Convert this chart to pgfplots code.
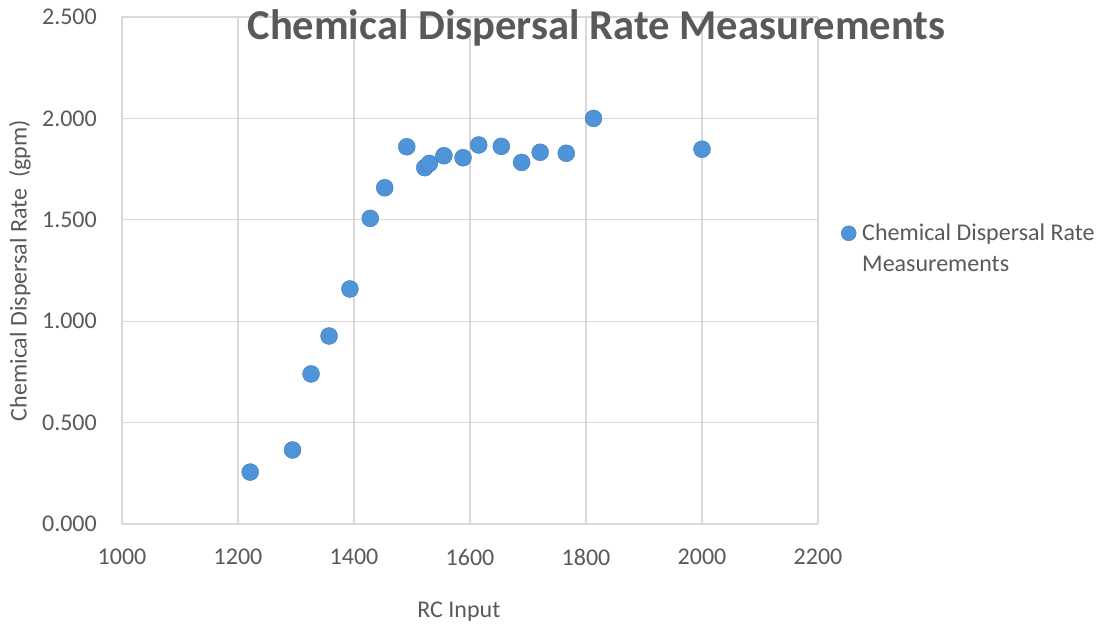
\documentclass[border=0pt]{standalone}
\usepackage{pgfplots}
\pgfplotsset{compat=1.18}
\usepackage{fontspec}
\setmainfont{Carlito}
\definecolor{txt}{HTML}{595959}
\definecolor{grd}{HTML}{D9D9D9}
\definecolor{pt}{HTML}{4F93D8}
\begin{document}
\begin{tikzpicture}
\useasboundingbox (-122pt,-105pt) rectangle (982pt,524pt);
\begin{axis}[
  at={(0pt,0pt)}, anchor=south west,
  scale only axis, width=696pt, height=507pt,
  xmin=1000, xmax=2200, ymin=0, ymax=2.5,
  xtick={1000,1200,...,2200},
  ytick={0,0.5,1,1.5,2,2.5},
  grid=major, major grid style={grd, line width=1.3pt},
  axis line style={draw=none},
  major tick length=0pt,
  /pgf/number format/assume math mode=true,
  xticklabel style={font=\fontsize{24}{29}\selectfont, text=txt, inner sep=0pt, /pgf/number format/1000 sep={}},
  yticklabel style={font=\fontsize{24}{29}\selectfont, text=txt, inner sep=0pt, /pgf/number format/fixed, /pgf/number format/fixed zerofill, /pgf/number format/precision=3},
  xticklabel shift=25pt, yticklabel shift=25pt,
  xlabel={RC Input}, ylabel={Chemical Dispersal Rate\ \ (gpm)},
  label style={font=\fontsize{24}{29}\selectfont, text=txt},
  xlabel style={at={(axis description cs:0.484,0)}, anchor=center, yshift=-88pt},
  every axis y label/.append style={at={(-102pt,253.5pt)}, anchor=center},
  title={\textbf{Chemical Dispersal Rate Measurements}},
  title style={font=\fontsize{42.6}{50}\selectfont, text=txt, at={(474.5pt,472pt)}, inner sep=0pt, yshift=0pt},
  legend style={draw=none, fill=none, at={(718pt,302pt)}, anchor=north west,
    font=\fontsize{24}{29}\selectfont, text=txt, row sep=10pt, inner sep=0pt,
    /tikz/every odd column/.append style={column sep=4pt}},
  legend cell align=left,
  clip=false,
]
\addplot[only marks, mark=*, mark size=8.5pt, mark options={fill=pt, draw=pt!85!black, line width=0.4pt}, legend image post style={mark size=7.5pt}] coordinates {
(1221,0.256) (1294,0.365) (1326,0.740) (1357,0.927) (1393,1.159)
(1428,1.507) (1453,1.658) (1491,1.860) (1522,1.757) (1530,1.778)
(1555,1.816) (1588,1.806) (1615,1.869) (1654,1.862) (1689,1.783)
(1721,1.833) (1766,1.828) (1813,2.000) (2000,1.848)
};
\addlegendentry{Chemical Dispersal Rate}
\addlegendimage{empty legend}
\addlegendentry{Measurements}
\end{axis}
\end{tikzpicture}
\end{document}
